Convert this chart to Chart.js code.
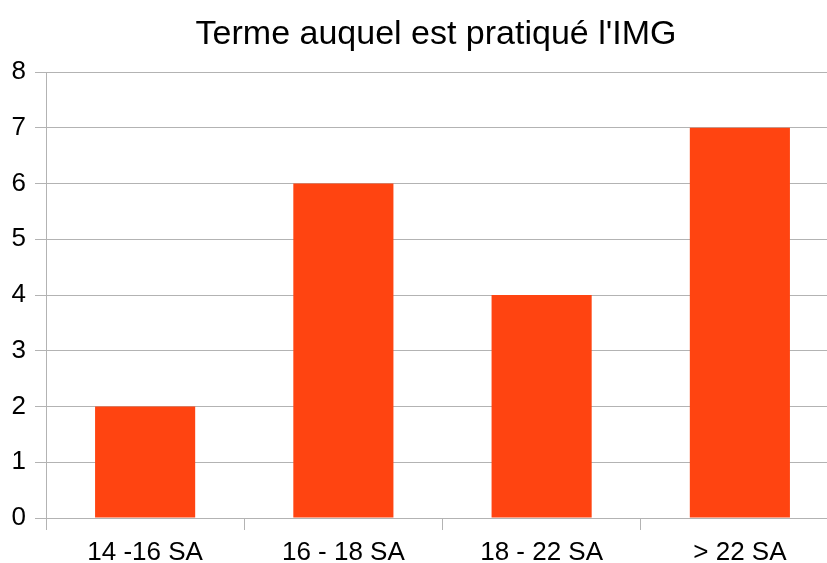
<!DOCTYPE html>
<html>
<head>
<meta charset="utf-8">
<script src="https://cdn.jsdelivr.net/npm/chart.js@4"></script>
<style>
html,body{margin:0;padding:0;overflow:hidden;background:#fff;width:827px;height:563px;}
canvas{display:block;}
</style>
</head>
<body>
<canvas id="c" width="872" height="563"></canvas>
<script>
const categories = ["14 -16 SA", "16 - 18 SA", "18 - 22 SA", "> 22 SA"];
const values = [2, 6, 4, 7];
const yTicks = [0, 1, 2, 3, 4, 5, 6, 7, 8];
const titleText = "Terme auquel est pratiqué l'IMG";

const FONT = "'Liberation Sans', Arial, sans-serif";
const GRID = "#b3b3b3";

const centerTitle = {
  id: 'centerTitle',
  afterLayout(chart) {
    if (chart.titleBlock) chart.titleBlock.right = chart.width;
  }
};

new Chart(document.getElementById('c'), {
  type: 'bar',
  data: {
    labels: categories,
    datasets: [{
      data: values,
      backgroundColor: '#ff4411',
      borderWidth: 0,
      categoryPercentage: 1,
      barPercentage: 0.505
    }]
  },
  plugins: [centerTitle],
  options: {
    responsive: false,
    animation: false,
    devicePixelRatio: 1,
    layout: { padding: { left: 0, right: 33, top: 0, bottom: 0 } },
    plugins: {
      legend: { display: false },
      tooltip: { enabled: false },
      title: {
        display: true,
        text: titleText,
        color: '#000',
        font: { family: FONT, size: 34, weight: 'normal', lineHeight: 1.2 },
        padding: { top: 14, bottom: 17.2 }
      }
    },
    scales: {
      x: {
        offset: true,
        grid: {
          display: true,
          offset: true,
          drawOnChartArea: false,
          drawTicks: true,
          tickLength: 12,
          color: GRID
        },
        border: { display: true, color: GRID },
        ticks: {
          color: '#000',
          padding: 7,
          font: { family: FONT, size: 26, lineHeight: 1.2 },
          maxRotation: 0
        },
        afterFit(scale) { scale.height = 45; }
      },
      y: {
        min: 0,
        max: 8,
        afterBuildTicks(scale) { scale.ticks = yTicks.map(v => ({ value: v })); },
        grid: {
          color: GRID,
          drawTicks: true,
          tickLength: 11
        },
        border: { display: true, color: GRID },
        ticks: {
          color: '#000',
          padding: 9,
          font: { family: FONT, size: 26, lineHeight: 1.2 }
        },
        afterFit(scale) { scale.width = 46; }
      }
    }
  }
});
</script>
</body>
</html>
